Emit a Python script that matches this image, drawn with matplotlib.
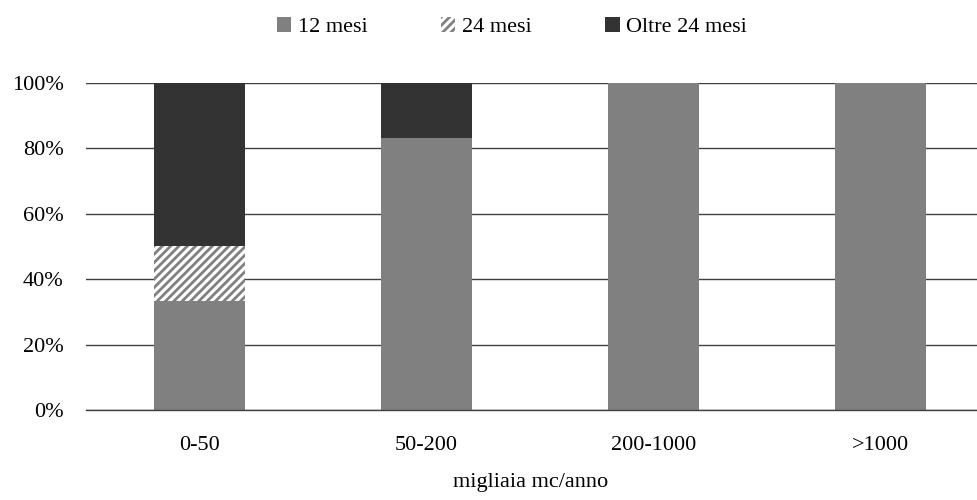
import numpy as np
import matplotlib.pyplot as plt

# dati (quota %)
categorie = ["0-50", "50-200", "200-1000", ">1000"]
mesi_12 = [33.3, 83.3, 100, 100]
mesi_24 = [16.7, 0, 0, 0]
oltre_24 = [50.0, 16.7, 0, 0]
yticks = [0, 20, 40, 60, 80, 100]

plt.rcParams['font.family'] = ['Liberation Serif', 'DejaVu Serif']
plt.rcParams['hatch.linewidth'] = 2.0

fig = plt.figure(figsize=(9.78, 5.0), dpi=100)
ax = fig.add_axes([86 / 978, 0.18, (978 - 86) / 978, 0.654])

x = np.arange(len(categorie))
w = 0.40
a = np.array(mesi_12)
b = np.array(mesi_24)
c = np.array(oltre_24)

ax.bar(x, a, width=w, color='#808080', label='12 mesi', zorder=2)
ax.bar(x, b, width=w, bottom=a, facecolor='white', edgecolor='#808080',
       linewidth=0, hatch='////', label='24 mesi', zorder=2)
ax.bar(x, c, width=w, bottom=a + b, color='#333333', label='Oltre 24 mesi', zorder=2)

ax.set_xlim(-0.5, 3.43)
ax.set_ylim(0, 100)
ax.set_yticks(yticks)
ax.set_yticklabels(['%d%%' % v for v in yticks])
ax.set_xticks(x)
ax.set_xticklabels(categorie)
ax.tick_params(axis='both', length=0, labelsize=16)
ax.tick_params(axis='y', pad=16)
ax.tick_params(axis='x', pad=19)
ax.yaxis.grid(True, color='#404040', linewidth=1.0, zorder=0)
for s in ['top', 'right', 'left']:
    ax.spines[s].set_visible(False)
ax.spines['bottom'].set_color('#404040')
ax.spines['bottom'].set_linewidth(1.0)

fig.text(531 / 978, 1 - 483 / 500, 'migliaia mc/anno', ha='center', va='center', fontsize=16)

fig.legend(loc='center', bbox_to_anchor=(512 / 978, 1 - 27 / 500), ncol=3, frameon=False,
           fontsize=16, handlelength=0.65, handleheight=0.65, handletextpad=0.3,
           columnspacing=3.3, borderaxespad=0)

fig.savefig('out.png', dpi=100)
